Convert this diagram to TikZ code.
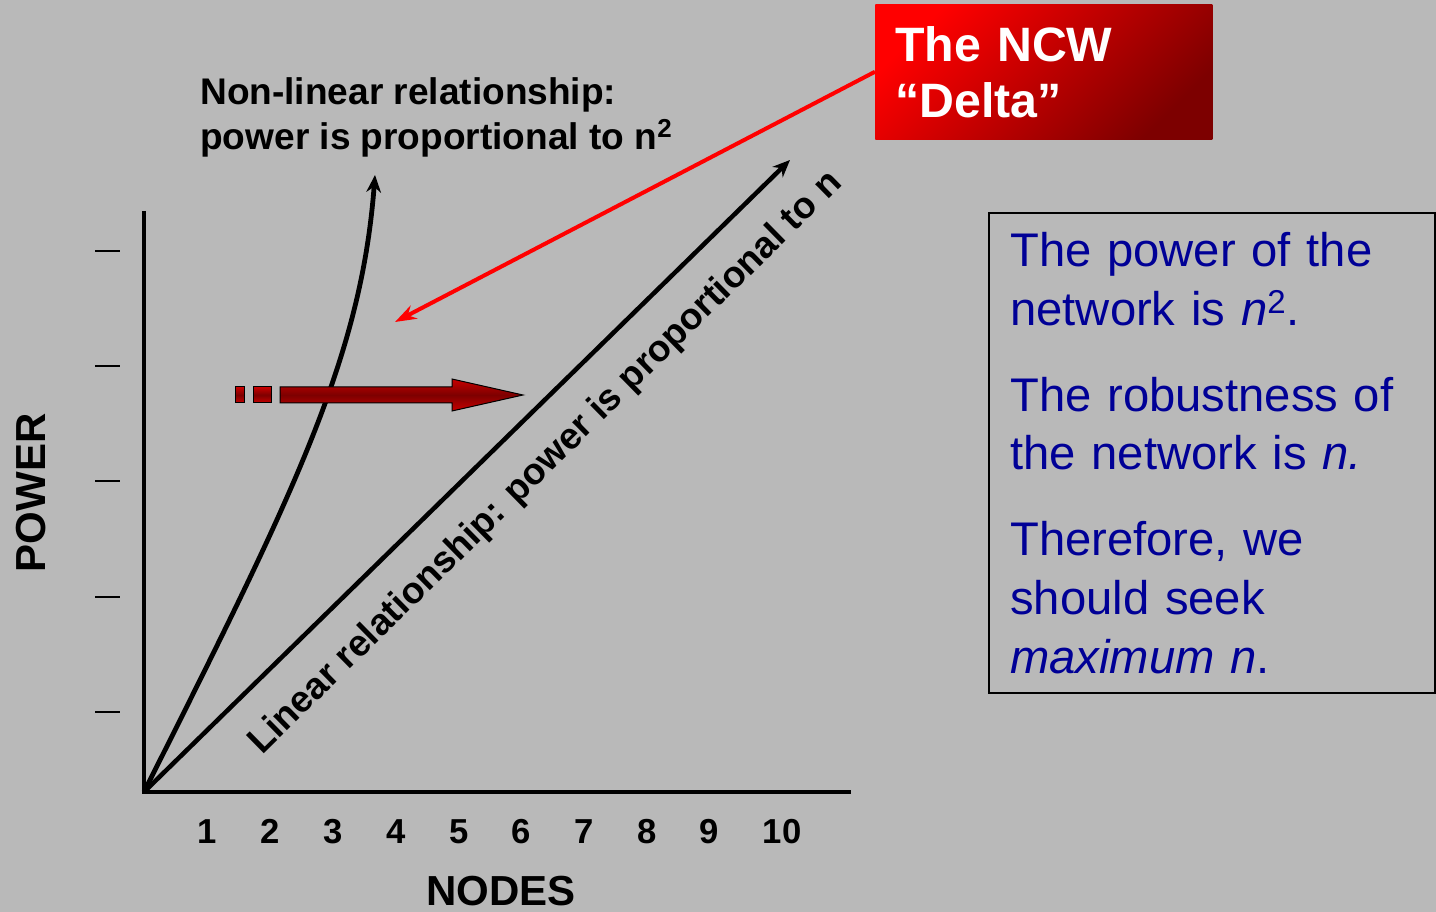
\documentclass[tikz,border=0pt]{standalone}
\usepackage{fontspec}
\setmainfont{Liberation Sans}
\usetikzlibrary{arrows.meta}
\definecolor{bggray}{RGB}{185,185,185}
\definecolor{txtblue}{RGB}{0,0,150}
\definecolor{darkred}{RGB}{125,0,0}
\definecolor{brightred}{RGB}{255,0,0}
\definecolor{edgered}{RGB}{200,0,0}
\begin{document}
\begin{tikzpicture}[x=0.75pt,y=-0.75pt,
  axisline/.style={line width=3.4pt, black},
  tickline/.style={line width=1.5pt, black},
  charttext/.style={font=\fontsize{27.8}{32}\selectfont\bfseries, inner sep=0pt},
  numlabel/.style={font=\fontsize{26}{30}\selectfont\bfseries, inner sep=0pt, anchor=base},
  axislabel/.style={font=\fontsize{31.5}{36}\selectfont\bfseries, inner sep=0pt},
  ncwbox/.style={anchor=north west, inner xsep=15pt, inner ysep=0pt,
    text width=222.75pt, minimum height=101.25pt, align=left, text=white,
    font=\fontsize{36.2}{42}\selectfont\bfseries,
    top color=brightred, bottom color=darkred, shading angle=45},
  infobox/.style={anchor=north west, draw=black, line width=1.5pt, inner xsep=16pt,
    inner ysep=0pt, text width=302.5pt, minimum height=360pt, align=left,
    text=txtblue, font=\fontsize{35.4}{44}\selectfont},
  bigarrow/.style={draw=black, line width=0.75pt, top color=edgered,
    bottom color=edgered, middle color=darkred},
  pointer/.style={draw=brightred, line width=3pt, -{Stealth[length=16pt,width=11pt]}},
  curvearrow/.style={line width=3.6pt, -{Stealth[length=13pt,width=11pt]}},
  linarrow/.style={line width=3.4pt, -{Stealth[length=13pt,width=11pt]}}]

\fill[bggray] (0,0) rectangle (1436,912);
\useasboundingbox (0,0) rectangle (1436,912);

% axes
\coordinate (O) at (144,792);
\coordinate (ytop) at (144,211);
\coordinate (xend) at (851,792);
\coordinate (linend) at (790,160);
\coordinate (curveend) at (375,175);
\coordinate (delta) at (395,322);
\draw[axisline] (ytop) -- (144,792) -- (xend);

% ticks
\foreach \y in {251,366,481,597,712}
  \draw[tickline] (95,\y) -- (120,\y);

% x labels
\foreach \x/\l in {207/1,270/2,333/3,396/4,459/5,521/6,584/7,647/8,709/9,782/10}
  \node[numlabel] (num\l) at (\x,843) {\l};

\node[axislabel, anchor=base] (nodeslabel) at (501,905) {NODES};
\node[axislabel, rotate=90] (powerlabel) at (31,493) {POWER};

% curves
\draw[curvearrow] (O) .. controls (292,497) and (361,360) .. (curveend);
\draw[linarrow] (O) -- (linend);

% texts
\node[charttext, anchor=base west] (nl1) at (200,105) {Non-linear relationship:};
\node[charttext, anchor=base west] (nl2) at (200,150) {power is proportional to n\textsuperscript{2}};
\node[charttext, anchor=base west, rotate=44.5] (lintext) at (262,756)
  {Linear relationship: power is proportional to n};

% big red arrow
\shadedraw[bigarrow] (235,387) rectangle (244,403);
\shadedraw[bigarrow] (253,387) rectangle (271,403);
\shadedraw[bigarrow] (280,387) -- (452,387) -- (452,379) -- (523,395)
  -- (452,411) -- (452,403) -- (280,403) -- cycle;

% NCW box
\node[ncwbox] (ncw) at (875,4) {The NCW\\“Delta”};
\draw[pointer] (ncw.west) -- (delta);

% info box
\node[infobox] (info) at (988,212) {The power of the\\network is \textit{n}\textsuperscript{2}.\\[20.5pt]The robustness of\\the network is \textit{n.}\\[20.5pt]Therefore, we\\should seek\\\textit{maximum n}.};
\end{tikzpicture}
\end{document}
